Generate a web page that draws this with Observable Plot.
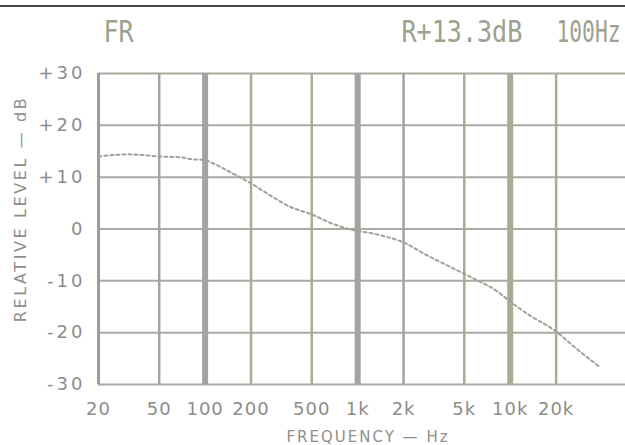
<!DOCTYPE html>
<html><head><meta charset="utf-8">
<script src="https://cdn.jsdelivr.net/npm/d3@7"></script>
<script src="https://cdn.jsdelivr.net/npm/@observablehq/plot@0.6"></script>
<style>
body{margin:0;background:#fff;}
#chart{position:relative;width:625px;height:445px;overflow:hidden;background:#fff;}
#scanline{position:absolute;left:0;top:5px;width:625px;height:2px;background:#454a45;}
#chart svg{position:absolute;left:0;top:0;}
</style></head><body><div id="chart"><div id="scanline"></div></div>
<script>
const titleLeft = ["FR"];
const titleRight = ["R+13.3dB", "100Hz"];
const freq  = [20, 32, 50, 70, 80, 100, 112, 150, 200, 260, 360, 500, 700, 900, 1270, 2000, 2860, 4100, 5800, 8200, 10000, 13000, 19600, 28000, 39000];
const level = [14.0, 14.4, 14.0, 13.8, 13.5, 13.3, 12.7, 10.8, 8.8, 6.7, 4.3, 2.8, 0.9, -0.1, -0.9, -2.6, -5.1, -7.4, -9.6, -12.0, -14.0, -16.4, -19.6, -23.4, -26.7];
const xTicks = [20, 50, 100, 200, 500, 1000, 2000, 5000, 10000, 20000];
const xTickLabels = ["20", "50", "100", "200", "500", "1k", "2k", "5k", "10k", "20k"];
const yTicks = [-30, -20, -10, 0, 10, 20, 30];
const yTickLabels = ["-30", "-20", "-10", "0", "+10", "+20", "+30"];
const xLabel = "FREQUENCY — Hz";
const yLabel = "RELATIVE LEVEL — dB";

const data = freq.map((f, i) => ({f, v: level[i]}));
const thick = new Set([100, 1000, 10000]);
const greenish = new Set([200, 500, 5000, 10000, 20000]);
const labelFont = "'DejaVu Sans', sans-serif";
const titleFont = "'DejaVu Sans Mono', monospace";
const tickColor = "#8c8c8a";
const titleColor = "#9ca190";
const pitch = 15.1; // title character cell width

const plot = Plot.plot({
  width: 625, height: 445,
  marginLeft: 98, marginRight: 0, marginTop: 73, marginBottom: 61,
  x: {type: "log", domain: [20, 57000], axis: null},
  y: {domain: [-30, 30], axis: null},
  style: {background: "transparent", fontFamily: labelFont},
  marks: [
    Plot.ruleY(yTicks, {stroke: "#a9aaa0", strokeWidth: 2}),
    Plot.ruleX(xTicks, {
      stroke: d => d === 20 ? "#9c9c9c" : greenish.has(d) ? "#a9ab97" : "#a3a3a3",
      strokeWidth: d => thick.has(d) ? 6 : d === 20 ? 3 : 2.5
    }),
    Plot.line(data, {x: "f", y: "v", stroke: "#a0a299", strokeWidth: 2, strokeDasharray: "3,3", curve: "monotone-x"}),
    Plot.text(xTicks, {x: d => d, text: (d, i) => xTickLabels[i], frameAnchor: "bottom", dy: 18, lineAnchor: "top", textAnchor: "middle", fontSize: 18, fill: tickColor}),
    Plot.text(yTicks, {y: d => d, text: (d, i) => yTickLabels[i], frameAnchor: "left", dx: -13, lineAnchor: "middle", textAnchor: "end", fontSize: 18, fill: tickColor}),
    Plot.text([xLabel], {frameAnchor: "bottom", dx: 6, dy: 53, fontSize: 15, fill: "#8f9088", lineAnchor: "middle", textAnchor: "middle"}),
    Plot.text([yLabel], {frameAnchor: "left", dx: -78, dy: -20, rotate: -90, fontSize: 16, fill: "#8f9088", lineAnchor: "middle", textAnchor: "middle"}),
    Plot.text(titleLeft, {frameAnchor: "top-left", dx: 5, dy: -32, textAnchor: "start", lineAnchor: "bottom", fontSize: 30, fill: titleColor, fontFamily: titleFont}),
    Plot.text([titleRight[0]], {frameAnchor: "top-left", dx: 303, dy: -32, textAnchor: "start", lineAnchor: "bottom", fontSize: 30, fill: titleColor, fontFamily: titleFont}),
    Plot.text([titleRight[1]], {frameAnchor: "top-right", dx: -5, dy: -32, textAnchor: "end", lineAnchor: "bottom", fontSize: 30, fill: titleColor, fontFamily: titleFont})
  ]
});

const sel = d3.select(plot);
const byText = t => sel.selectAll("text").filter(function(){ return this.textContent === t; });
byText(xLabel).style("letter-spacing", "2px");
byText(yLabel).style("letter-spacing", "2.6px");
yTickLabels.forEach(t => byText(t).style("letter-spacing", "3px"));
xTickLabels.forEach(t => byText(t).style("letter-spacing", "1px"));
byText(titleLeft[0]).attr("textLength", 2 * pitch).attr("lengthAdjust", "spacingAndGlyphs");
byText(titleRight[0]).attr("textLength", 8 * pitch).attr("lengthAdjust", "spacingAndGlyphs");
byText(titleRight[1]).attr("textLength", 64).attr("lengthAdjust", "spacingAndGlyphs");
document.getElementById("chart").appendChild(plot);
</script></body></html>
